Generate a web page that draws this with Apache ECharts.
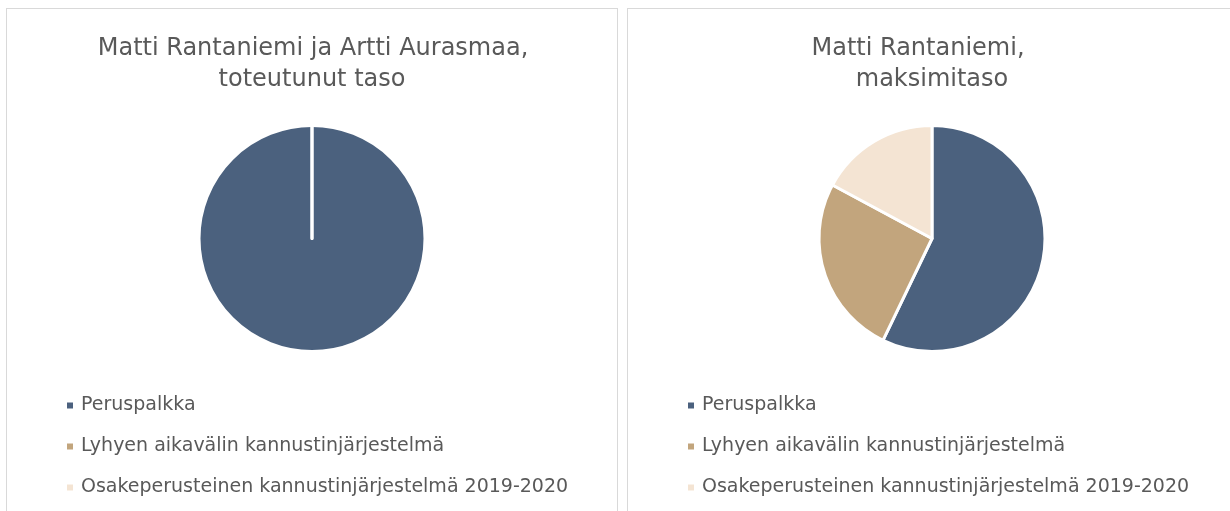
<!DOCTYPE html>
<html style="height: 100%">

<head>
    <meta charset="utf-8">
    <script src="https://cdn.jsdelivr.net/npm/echarts@6/dist/echarts.min.js"></script>
    <style>
        body { margin: 0; background: #fff; width: 1230px; height: 511px; overflow: hidden; position: relative; }
        .panel { position: absolute; top: 8px; height: 520px; border: 1px solid #d9d9d9; box-sizing: border-box; }
    </style>
</head>

<body>
    <div id="left" class="panel" style="left: 6px; width: 612px"></div>
    <div id="right" class="panel" style="left: 627px; width: 620px"></div>
    <script type="text/javascript">
        var categories = ['Peruspalkka', 'Lyhyen aikavälin kannustinjärjestelmä', 'Osakeperusteinen kannustinjärjestelmä 2019-2020'];
        var colors = ['#4b617e', '#c2a57d', '#f4e4d3'];
        // toteutunut taso: vain peruspalkka
        var valuesActual = [100, 0, 0];
        // maksimitaso
        var valuesMax = [100, 45, 30];

        var titleActual = ['Matti Rantaniemi ja Artti Aurasmaa,', 'toteutunut taso'];
        var titleMax = ['Matti Rantaniemi,', 'maksimitaso'];

        // one title component per line so each line can be centred like the original
        function titleLines(lines, centers) {
            return lines.map(function (t, i) {
                return {
                    text: t,
                    left: centers[i],
                    textAlign: 'center',
                    top: 24 + i * 31,
                    padding: 0,
                    textStyle: {
                        fontFamily: 'DejaVu Sans',
                        fontSize: 24,
                        lineHeight: 31,
                        fontWeight: 'normal',
                        color: '#595959'
                    }
                };
            });
        }

        function makeOption(title, centers, values, cx) {
            return {
                animation: false,
                color: colors,
                title: titleLines(title, centers),
                legend: {
                    orient: 'vertical',
                    left: 58,
                    top: 387,
                    padding: 0,
                    itemWidth: 8,
                    itemHeight: 8,
                    itemGap: 22,
                    icon: 'rect',
                    textStyle: { fontFamily: 'DejaVu Sans', fontSize: 19, color: '#595959', padding: [0, 0, 0, 2] },
                    data: categories
                },
                series: [{
                    type: 'pie',
                    center: [cx, 229.5],
                    radius: 113,
                    startAngle: 90,
                    clockwise: true,
                    label: { show: false },
                    labelLine: { show: false },
                    itemStyle: { borderColor: '#fff', borderWidth: 3 },
                    data: categories.map(function (c, i) {
                        return { name: c, value: values[i] };
                    })
                }]
            };
        }

        var leftChart = echarts.init(document.getElementById('left'));
        leftChart.setOption(makeOption(titleActual, [306, 305], valuesActual, 305));
        var rightChart = echarts.init(document.getElementById('right'));
        rightChart.setOption(makeOption(titleMax, [290, 304], valuesMax, 304));
    </script>
</body>

</html>
